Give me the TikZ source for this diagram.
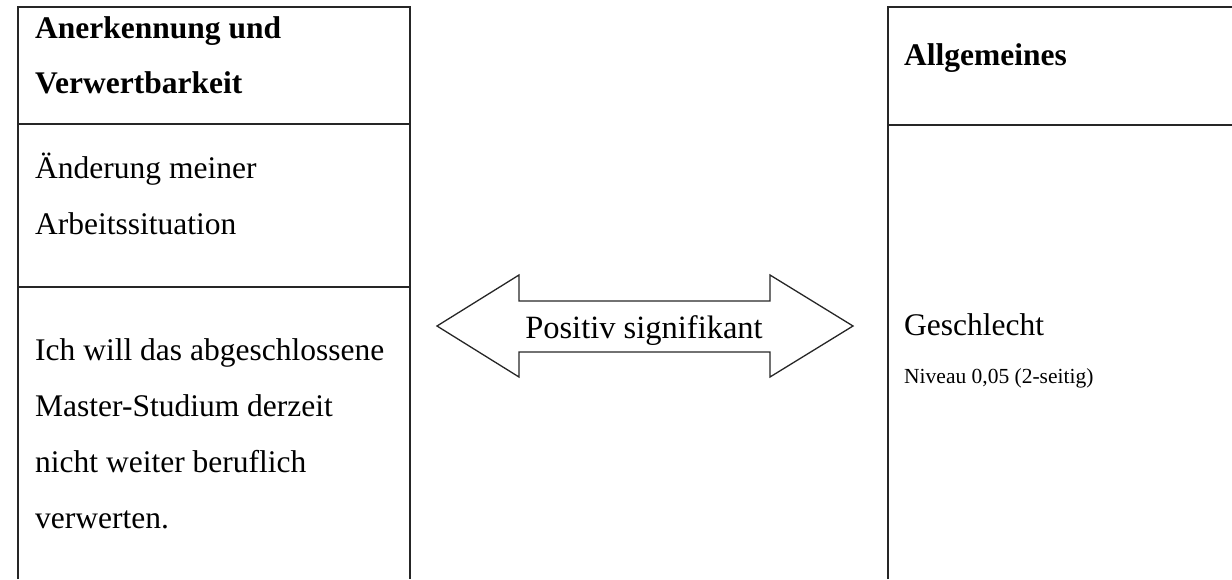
\documentclass[tikz,border=0pt]{standalone}
\usepackage{fontspec}
\setmainfont{Liberation Serif}
\begin{document}
\begin{tikzpicture}[x=1pt,y=-1pt,
  frame/.style={line width=1.3pt,draw=black!85},
  sepline/.style={line width=2.6pt,draw=black!85},
  thinsep/.style={line width=1.3pt,draw=black!85},
  txt/.style={anchor=base west,inner sep=0pt,font=\fontsize{31.5}{31.5}\selectfont},
  head/.style={txt,font=\fontsize{31.5}{31.5}\selectfont\bfseries},
  small/.style={anchor=base west,inner sep=0pt,font=\fontsize{21.5}{21.5}\selectfont},
  arrowshape/.style={line width=1.3pt,draw=black!85,line join=miter}]
\useasboundingbox (0,0) rectangle (1232,579);
% left box
\coordinate (LBL) at (18,579);
\coordinate (LTL) at (18,7);
\coordinate (LTR) at (410,7);
\coordinate (LBR) at (410,579);
\draw[frame] (LBL) -- (LTL) -- (LTR) -- (LBR);
\draw[sepline] (18,124) -- (410,124);
\draw[thinsep] (18,287) -- (410,287);
% right box
\coordinate (RBL) at (888,579);
\coordinate (RTL) at (888,7);
\coordinate (RTR) at (1232,7);
\draw[frame] (RBL) -- (RTL) -- (RTR);
\draw[sepline] (888,125) -- (1232,125);
% texts left
\node[head] (h1) at (35,38) {Anerkennung und};
\node[head] (h2) at (35,93) {Verwertbarkeit};
\node[txt] (a1) at (35,178) {Änderung meiner};
\node[txt] (a2) at (35,234) {Arbeitssituation};
\node[txt] (b1) at (35,360) {Ich will das abgeschlossene};
\node[txt] (b2) at (35,416) {Master-Studium derzeit};
\node[txt] (b3) at (35,472) {nicht weiter beruflich};
\node[txt] (b4) at (35,528) {verwerten.};
% texts right
\node[head] (h3) at (904,65) {Allgemeines};
\node[txt] (g1) at (904,335) {Geschlecht};
\node[small] (g2) at (904,383) {Niveau 0,05 (2-seitig)};
% arrow
\draw[arrowshape] (437,326) -- (519,275) -- (519,301) -- (770,301) -- (770,275)
  -- (853,326) -- (770,377) -- (770,352) -- (519,352) -- (519,377) -- cycle;
\node[txt,anchor=base,font=\fontsize{32.5}{32.5}\selectfont] (ps) at (644,338) {Positiv signifikant};
\end{tikzpicture}
\end{document}
